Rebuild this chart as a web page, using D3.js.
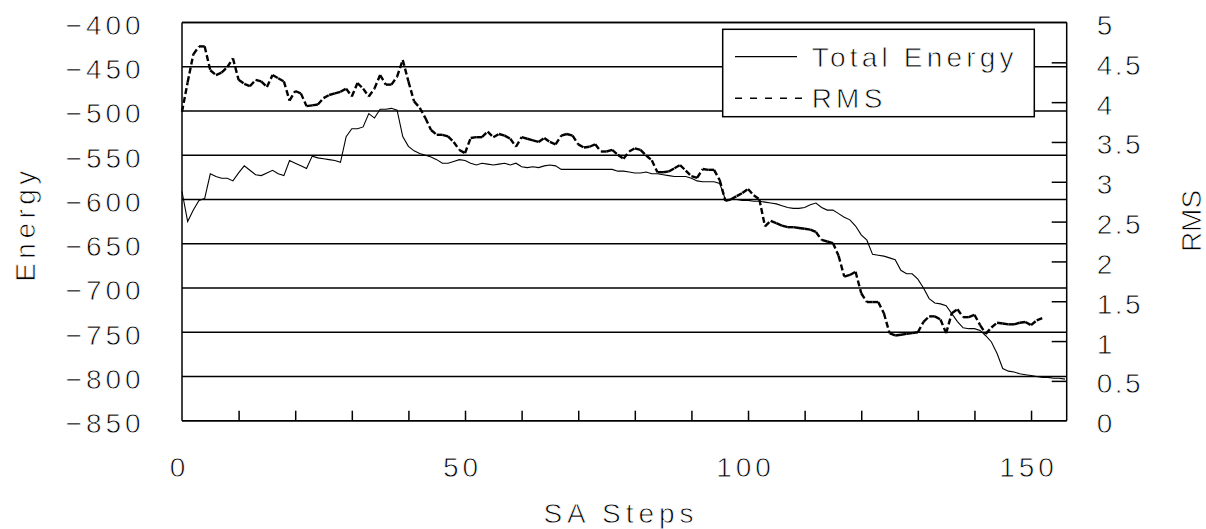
<!DOCTYPE html>
<html>
<head>
<meta charset="utf-8">
<script src="https://cdn.jsdelivr.net/npm/d3@7"></script>
<style>
body { margin: 0; background: #fff; }
/* thin white outline makes the glyphs lighter, closer to the original bitmap font */
svg text { font-family: "Liberation Sans", Arial, sans-serif; font-size: 28px; fill: #000; stroke: #fff; stroke-width: 0.8px; }
</style>
</head>
<body>
<svg id="chart"></svg>
<script>
// Total energy per SA step (0..156)
const energy = [
  -591, -625, -612, -601, -599, -571, -574, -576, -576, -579,
  -570, -562, -567, -572, -573, -570, -567, -571, -573, -556,
  -559, -562, -565, -551, -553, -554, -555, -556, -558, -529,
  -520, -520, -518, -503, -508, -498, -498, -497, -499, -529,
  -540, -545, -548, -550, -552, -555, -559, -559, -557, -555,
  -556, -559, -561, -559, -560, -561, -560, -559, -561, -559,
  -563, -564, -563, -564, -562, -561, -562, -566, -566, -566,
  -566, -566, -566, -566, -566, -566, -566, -568, -568, -569,
  -570, -570, -569, -571, -571, -572, -573, -574, -574, -574,
  -576, -579, -580, -580, -580, -582, -600, -600, -600, -601,
  -601, -602, -602, -603, -604, -605, -607, -609, -610, -610,
  -609, -606, -604, -609, -612, -612, -616, -620, -623, -630,
  -640, -646, -662, -663, -664, -666, -668, -680, -684, -684,
  -690, -700, -712, -717, -718, -720, -729, -738, -745, -746,
  -746, -748, -754, -761, -774, -791, -794, -795, -797, -798,
  -799, -800, -801, -801, -802, -802, -803
];

// RMS per SA step (0..152)
const rms = [
  3.88, 4.25, 4.60, 4.70, 4.70, 4.40, 4.34, 4.37, 4.44, 4.55,
  4.28, 4.23, 4.20, 4.28, 4.26, 4.19, 4.34, 4.30, 4.26, 4.02,
  4.14, 4.11, 3.95, 3.96, 3.97, 4.05, 4.09, 4.11, 4.13, 4.17,
  4.07, 4.24, 4.17, 4.07, 4.17, 4.34, 4.22, 4.22, 4.32, 4.53,
  4.26, 4.01, 3.93, 3.80, 3.65, 3.59, 3.59, 3.57, 3.50, 3.40,
  3.36, 3.55, 3.56, 3.56, 3.63, 3.56, 3.60, 3.58, 3.54, 3.44,
  3.56, 3.54, 3.52, 3.50, 3.55, 3.50, 3.47, 3.58, 3.60, 3.58,
  3.47, 3.43, 3.44, 3.47, 3.38, 3.38, 3.40, 3.34, 3.29, 3.38,
  3.42, 3.40, 3.33, 3.27, 3.12, 3.12, 3.13, 3.17, 3.21, 3.14,
  3.07, 3.05, 3.16, 3.15, 3.15, 3.02, 2.76, 2.78, 2.82, 2.86,
  2.91, 2.83, 2.78, 2.44, 2.51, 2.48, 2.45, 2.43, 2.43, 2.42,
  2.41, 2.40, 2.37, 2.27, 2.25, 2.23, 2.07, 1.81, 1.83, 1.87,
  1.60, 1.49, 1.49, 1.49, 1.35, 1.10, 1.07, 1.08, 1.09, 1.10,
  1.11, 1.24, 1.31, 1.31, 1.27, 1.10, 1.35, 1.40, 1.30, 1.30,
  1.33, 1.20, 1.09, 1.17, 1.23, 1.22, 1.21, 1.21, 1.23, 1.24,
  1.20, 1.26, 1.29
];

const energyTicks = [-400, -450, -500, -550, -600, -650, -700, -750, -800, -850];
const rmsTicks = [0, 0.5, 1, 1.5, 2, 2.5, 3, 3.5, 4, 4.5, 5];
const stepTicks = [0, 50, 100, 150];
const stepMinorTicks = [10, 20, 30, 40, 50, 60, 70, 80, 90, 100, 110, 120, 130, 140, 150];
const seriesNames = ["Total Energy", "RMS"];

const W = 1206, H = 529;
const plot = { left: 182, right: 1066.7, top: 22.5, bottom: 420.7 };

const svg = d3.select("#chart").attr("width", W).attr("height", H);

const x = d3.scaleLinear().domain([0, 156.3]).range([plot.left, plot.right]);
const yE = d3.scaleLinear().domain([-850, -400]).range([plot.bottom, plot.top]);
const yR = d3.scaleLinear().domain([0, 5]).range([plot.bottom, plot.top]);

// horizontal gridlines at the energy ticks
svg.append("g")
  .selectAll("line")
  .data(energyTicks)
  .join("line")
  .attr("x1", plot.left).attr("x2", plot.right)
  .attr("y1", d => yE(d)).attr("y2", d => yE(d))
  .attr("stroke", "#000").attr("stroke-width", 1.5);

// frame sides
svg.append("line").attr("x1", plot.left).attr("x2", plot.left)
  .attr("y1", plot.top).attr("y2", plot.bottom)
  .attr("stroke", "#000").attr("stroke-width", 1.5);
svg.append("line").attr("x1", plot.right).attr("x2", plot.right)
  .attr("y1", plot.top).attr("y2", plot.bottom)
  .attr("stroke", "#000").attr("stroke-width", 1.5);

// bottom inner ticks
const bottomTicks = svg.append("g")
  .attr("transform", `translate(0,${plot.bottom})`)
  .call(d3.axisTop(x).tickValues(stepMinorTicks).tickSize(10).tickFormat(""));
bottomTicks.select(".domain").remove();
bottomTicks.selectAll("line").attr("stroke", "#000").attr("stroke-width", 1.5);

// right inner ticks
const rightTicks = svg.append("g")
  .attr("transform", `translate(${plot.right},0)`)
  .call(d3.axisLeft(yR).tickValues(rmsTicks.filter(d => d > 0 && d < 5)).tickSize(15).tickFormat(""));
rightTicks.select(".domain").remove();
rightTicks.selectAll("line").attr("stroke", "#000").attr("stroke-width", 1.5);

// tick labels
svg.append("g")
  .selectAll("text")
  .data(energyTicks)
  .join("text")
  .attr("x", 140.7 + 4).attr("y", d => yE(d) + 12.5)
  .attr("text-anchor", "end")
  .attr("letter-spacing", 4)
  .text(d => d3.format("d")(d));

svg.append("g")
  .selectAll("text")
  .data(rmsTicks)
  .join("text")
  .attr("x", 1096.7).attr("y", d => yR(d) + 12.5)
  .attr("letter-spacing", 2.5)
  .text(d => String(d));

svg.append("g")
  .selectAll("text")
  .data(stepTicks)
  .join("text")
  .attr("x", d => x(d) - 2.5).attr("y", 477)
  .attr("text-anchor", "middle")
  .attr("letter-spacing", 4)
  .text(d => d);

// axis titles
svg.append("text")
  .attr("x", 621).attr("y", 523)
  .attr("text-anchor", "middle")
  .attr("letter-spacing", 5)
  .text("SA Steps");

svg.append("text")
  .attr("transform", "translate(35,224) rotate(-90)")
  .attr("text-anchor", "middle")
  .attr("letter-spacing", 4.5)
  .text("Energy");

svg.append("text")
  .attr("transform", "translate(1201,221) rotate(-90)")
  .attr("text-anchor", "middle")
  .attr("font-size", 26)
  .text("RMS");

// Total Energy line
const energyLine = d3.line()
  .x((d, i) => x(i))
  .y(d => yE(d));

svg.append("path")
  .datum(energy)
  .attr("fill", "none")
  .attr("stroke", "#000")
  .attr("stroke-width", 1.1)
  .attr("d", energyLine);

// RMS line: each segment dashed on its own, like the original
const rmsPts = rms.map((v, i) => [i, v]);
const rmsLine = d3.line()
  .x(d => x(d[0]))
  .y(d => yR(d[1]));

svg.append("g")
  .selectAll("path")
  .data(d3.pairs(rmsPts))
  .join("path")
  .attr("fill", "none")
  .attr("stroke", "#000")
  .attr("stroke-width", 2.4)
  .attr("stroke-dasharray", "6,3")
  .attr("d", rmsLine);

// frame top and bottom on top of lines
svg.append("line").attr("x1", plot.left).attr("x2", plot.right)
  .attr("y1", plot.top).attr("y2", plot.top)
  .attr("stroke", "#000").attr("stroke-width", 1.5);
svg.append("line").attr("x1", plot.left).attr("x2", plot.right)
  .attr("y1", plot.bottom).attr("y2", plot.bottom)
  .attr("stroke", "#000").attr("stroke-width", 1.5);

// legend
const legend = svg.append("g");
legend.append("rect")
  .attr("x", 722.7).attr("y", 29.3)
  .attr("width", 311.6).attr("height", 87.4)
  .attr("fill", "#fff").attr("stroke", "#000").attr("stroke-width", 1.5);

const legendRows = legend.selectAll("g.row")
  .data(seriesNames)
  .join("g")
  .attr("class", "row")
  .attr("transform", (d, i) => `translate(0,${i * 41.6})`);

legendRows.append("line")
  .attr("x1", 735).attr("x2", d => d === "RMS" ? 803 : 797)
  .attr("y1", 56.7).attr("y2", 56.7)
  .attr("stroke", "#000")
  .attr("stroke-width", d => d === "RMS" ? 1.4 : 1.2)
  .attr("stroke-dasharray", d => d === "RMS" ? "7,8" : null);

legendRows.append("text")
  .attr("x", 811.7).attr("y", 66.7)
  .attr("letter-spacing", 4.2)
  .text(d => d);
</script>
</body>
</html>
